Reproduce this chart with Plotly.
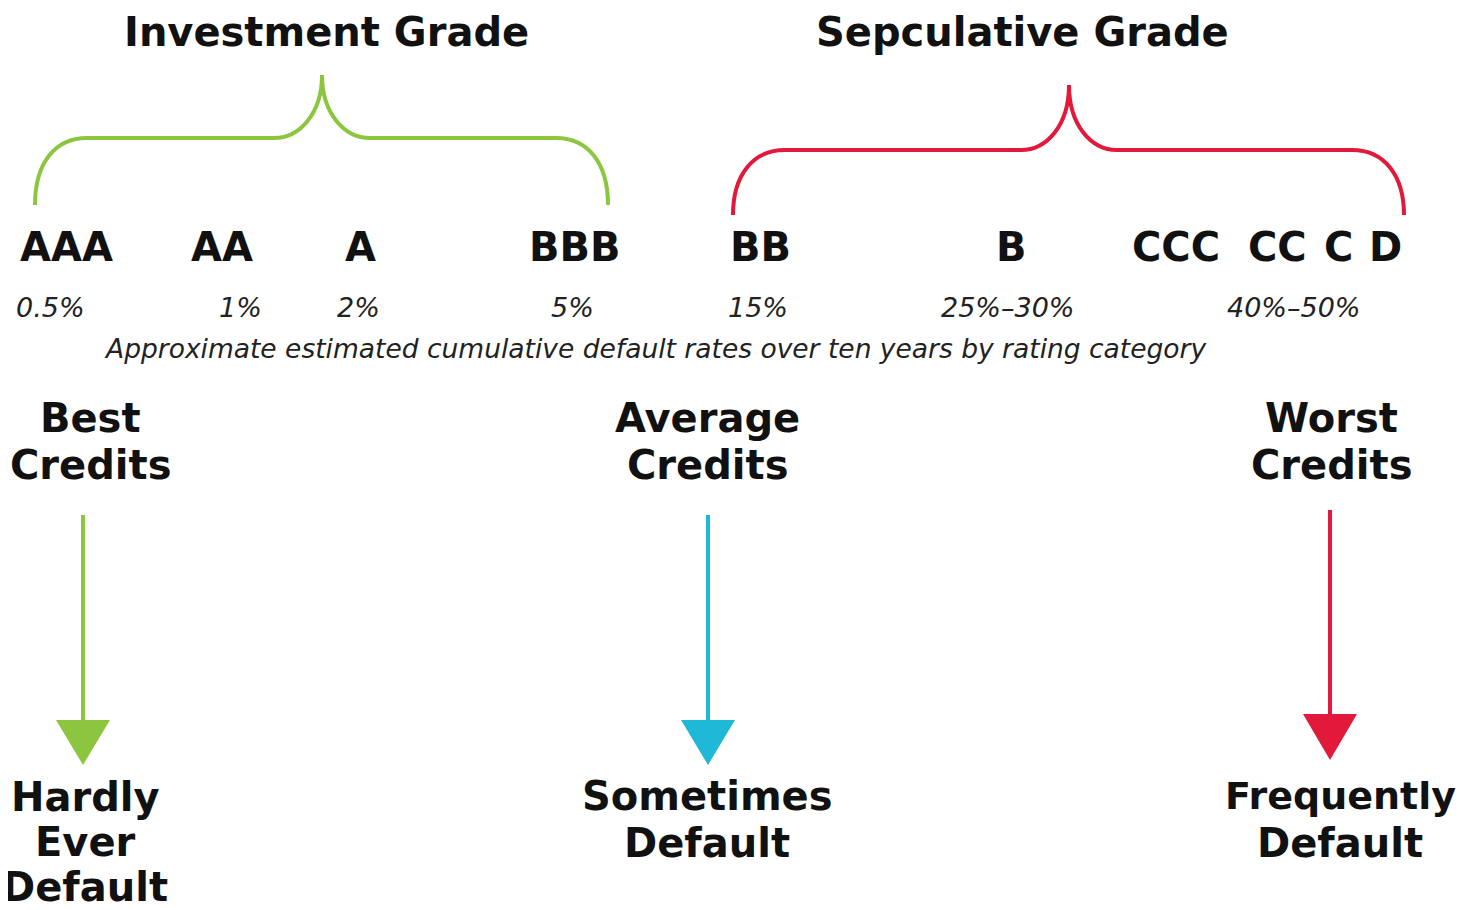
import plotly.graph_objects as go

# ---- data ----
ratings = ["AAA", "AA", "A", "BBB", "BB", "B", "CCC", "CC", "C", "D"]
rating_x = [66, 222, 360, 574, 760, 1011, 1176, 1277, 1338, 1385]
rates = ["0.5%", "1%", "2%", "5%", "15%", "25%–30%", "40%–50%"]
rate_x = [50, 240, 358, 572, 758, 1008, 1294]
caption = "Approximate estimated cumulative default rates over ten years by rating category"
grades = ["Investment Grade", "Sepculative Grade"]
grade_x = [326, 1022]
credit_heads = [["Best", "Credits"], ["Average", "Credits"], ["Worst", "Credits"]]
head_x = [90, 707, 1331]
outcomes = [["Hardly", "Ever", "Default"], ["Sometimes", "Default"], ["Frequently", "Default"]]
outcome_x = [85, 707, 1340]

GREEN = "#8cc63f"
RED = "#e2193a"
BLUE = "#1fb9d7"
FONT = "DejaVu Sans"
OFF = 8  # page body margin compensation
W, H = 1464, 910

# brace geometry: left, right, tip, bottom y, bar y, tip y
braces = [
    dict(l=35, r=608, t=322, yb=205, ym=138, yt=75, c=GREEN),
    dict(l=733, r=1404, t=1069, yb=215, ym=150, yt=85, c=RED),
]
# arrows: x, y0, y1 (base of head), tip, half width
arrows = [
    dict(x=83, y0=515, y1=720, tip=765, hw=27, c=GREEN),
    dict(x=708, y0=515, y1=720, tip=765, hw=27, c=BLUE),
    dict(x=1330, y0=510, y1=714, tip=760, hw=27, c=RED),
]

fig = go.Figure()
shapes = []
for b in braces:
    l, r, t, yb, ym, yt = b["l"], b["r"], b["t"], b["yb"], b["ym"], b["yt"]
    path = (f"M {l},{yb} C {l},{ym+25} {l+20},{ym} {l+52},{ym} "
            f"L {t-48},{ym} C {t-22},{ym} {t},{ym-25} {t},{yt} "
            f"C {t},{ym-25} {t+22},{ym} {t+48},{ym} "
            f"L {r-52},{ym} C {r-20},{ym} {r},{ym+25} {r},{yb}")
    shapes.append(dict(type="path", path=path, xref="x", yref="y",
                       line=dict(color=b["c"], width=4)))
for a in arrows:
    shapes.append(dict(type="line", x0=a["x"], x1=a["x"], y0=a["y0"], y1=a["y1"] + 2,
                       xref="x", yref="y", line=dict(color=a["c"], width=4)))
    path = f"M {a['x']-a['hw']},{a['y1']} L {a['x']+a['hw']},{a['y1']} L {a['x']},{a['tip']} Z"
    shapes.append(dict(type="path", path=path, xref="x", yref="y",
                       fillcolor=a["c"], line=dict(color=a["c"], width=0)))

ann = []
def txt(x, y, s, size, bold=True, italic=False, color="#111111"):
    t = f"<b>{s}</b>" if bold else s
    if italic:
        t = f"<i>{t}</i>"
    ann.append(dict(x=x, y=y, xref="x", yref="y", text=t, showarrow=False,
                    xanchor="center", yanchor="middle", borderpad=0,
                    font=dict(family=FONT, size=size, color=color)))

for g, x in zip(grades, grade_x):
    txt(x, 32, g, 40)
for r, x in zip(ratings, rating_x):
    txt(x, 247, r, 40)
for r, x in zip(rates, rate_x):
    txt(x, 307, r, 27, bold=False, italic=True, color="#222222")
txt(655, 348, caption, 26.5, bold=False, italic=True, color="#222222")
for lines, x in zip(credit_heads, head_x):
    for i, s in enumerate(lines):
        txt(x, 418 + 47 * i, s, 40)
for lines, x in zip(outcomes, outcome_x):
    if len(lines) == 3:
        y0, step = 797, 45
    else:
        y0, step = 796, 46.5
    for i, s in enumerate(lines):
        sz = 38 if len(s) >= 10 else 40
        txt(x, y0 + step * i, s, sz)

fig.update_layout(
    width=W - OFF, height=H - OFF,
    margin=dict(l=0, r=0, t=0, b=0),
    paper_bgcolor="white", plot_bgcolor="white",
    xaxis=dict(range=[OFF, W], visible=False, fixedrange=True),
    yaxis=dict(range=[H, OFF], visible=False, fixedrange=True),
    shapes=shapes, annotations=ann, showlegend=False,
)
fig.write_html("out.html")
